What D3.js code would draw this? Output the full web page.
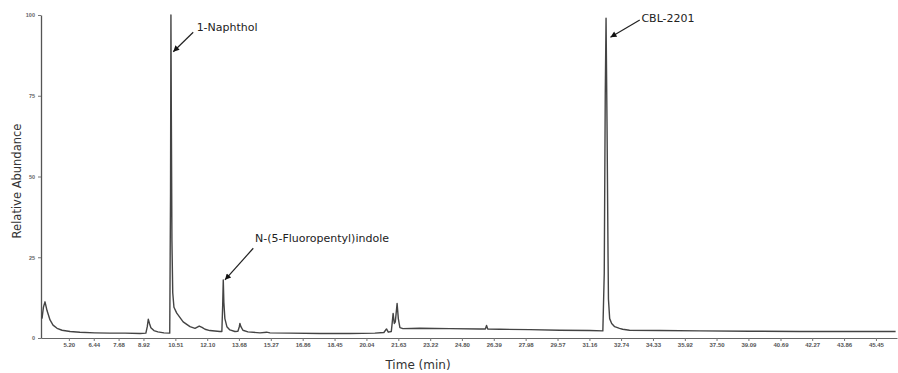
<!DOCTYPE html>
<html>
<head>
<meta charset="utf-8">
<script src="https://cdn.jsdelivr.net/npm/d3@7"></script>
<style>
    body { margin: 0; background: #fff; }
    svg { display: block; }
</style>
</head>
<body>
<script>
// tick labels on the time axis (min)
const tick_times = [5.20, 6.44, 7.68, 8.92, 10.51, 12.10, 13.68, 15.27, 16.86, 18.45, 20.04,
    21.63, 23.22, 24.80, 26.39, 27.98, 29.57, 31.16, 32.74, 34.33, 35.92, 37.50, 39.09,
    40.69, 42.27, 43.86, 45.45];
const abundance_ticks = [0, 25, 50, 75, 100];

// chromatogram trace
const trace_times = [3.86, 3.93, 4.01, 4.11, 4.26, 4.41, 4.61, 4.86, 5.26, 5.75, 6.50, 7.25,
    8.00, 8.75, 9.04, 9.11, 9.16, 9.22, 9.29, 9.44, 9.64, 9.94, 10.23, 10.27, 10.29, 10.31,
    10.34, 10.38, 10.44, 10.58, 10.90, 11.24, 11.49, 11.70, 11.84, 11.99, 12.23, 12.73, 12.83,
    12.87, 12.90, 12.93, 12.98, 13.08, 13.23, 13.48, 13.63, 13.70, 13.73, 13.78, 13.88, 14.13,
    14.73, 15.06, 15.23, 16.22, 17.72, 19.21, 20.46, 20.91, 21.04, 21.13, 21.28, 21.33, 21.37,
    21.43, 21.48, 21.57, 21.63, 21.71, 21.86, 22.70, 24.20, 25.69, 25.97, 26.03, 26.09, 26.69,
    28.19, 29.68, 31.18, 31.83, 31.90, 31.95, 31.99, 32.04, 32.09, 32.11, 32.17, 32.27, 32.42,
    32.66, 32.82, 33.16, 34.66, 36.66, 39.15, 41.64, 44.14, 46.43];
const trace_abundance = [6.0, 9.5, 11.2, 8.5, 5.6, 4.0, 3.0, 2.4, 2.0, 1.8, 1.6, 1.5,
    1.5, 1.4, 1.5, 3.5, 5.8, 4.5, 3.2, 2.3, 1.9, 1.6, 1.5, 45, 100, 70,
    30, 14, 9.5, 7.7, 5.0, 3.5, 3.0, 3.7, 3.3, 2.7, 2.3, 2.0, 2.0,
    10, 18, 11, 6, 3.5, 2.5, 2.0, 2.1, 3.5, 4.5, 3.5, 2.4, 1.9,
    1.6, 1.8, 1.6, 1.5, 1.4, 1.4, 1.5, 1.7, 2.8, 1.8, 2.0, 5, 7.6,
    4.5, 5, 10.7, 6, 3.2, 2.9, 3.0, 2.9, 2.8, 2.8, 3.9, 2.8, 2.7,
    2.6, 2.4, 2.3, 2.2, 20, 75, 99, 65, 25, 12, 6, 4.5, 3.5,
    3.0, 2.7, 2.4, 2.3, 2.2, 2.1, 2.0, 2.0, 2.0];

// labelled peaks
const peak_names = ['1-Naphthol', 'N-(5-Fluoropentyl)indole', 'CBL-2201'];
const peak_times = [10.29, 12.90, 31.99];
const peak_abundance = [100, 18, 99];

const width = 898,
    height = 373;

const plot_left = 41, plot_right = 897, plot_top = 15, plot_bottom = 338;

// offsets (px) of arrow tip, arrow tail and text start, relative to the peak apex
const label_layout = [
    {tip: [2.3, 36.7], tail: [22.3, 17.3], text: [25.7, 15.7]},
    {tip: [1.7, 0], tail: [30, -31.6], text: [31.7, -37.6]},
    {tip: [4.4, 19], tail: [33.7, 1.8], text: [35.4, 4.1]}
];

const svg = d3.select('body')
    .append('svg')
    .attr('width', width)
    .attr('height', height)
    .style('font-family', '"DejaVu Sans", Verdana, sans-serif');

svg.append('defs').append('marker')
    .attr('id', 'arrowhead')
    .attr('viewBox', '0 -5 10 10')
    .attr('refX', 10)
    .attr('refY', 0)
    .attr('orient', 'auto')
    .attr('markerUnits', 'userSpaceOnUse')
    .attr('markerWidth', 8)
    .attr('markerHeight', 6)
    .append('path')
    .attr('d', 'M 0,-5 L 10,0 L 0,5 Z')
    .attr('fill', '#111');

const x = d3.scaleLinear()
    .domain([3.81, 46.5])
    .range([plot_left, plot_right]);

const y = d3.scaleLinear()
    .domain([0, 100])
    .range([plot_bottom, plot_top]);

// axes
const x_axis = svg.append('g')
    .attr('transform', 'translate(0,' + plot_bottom + ')')
    .call(d3.axisBottom(x)
        .tickValues(tick_times)
        .tickFormat(d3.format('.2f'))
        .tickSize(3)
        .tickSizeOuter(0)
        .tickPadding(2));

x_axis.select('.domain').attr('stroke', '#666').attr('stroke-width', 1.2);
x_axis.selectAll('.tick line').attr('stroke', '#777');
x_axis.selectAll('.tick text')
    .attr('fill', '#555')
    .style('font-size', '6px')
    .style('font-weight', 'bold');

const y_axis = svg.append('g')
    .attr('transform', 'translate(' + plot_left + ',0)')
    .call(d3.axisLeft(y)
        .tickValues(abundance_ticks)
        .tickSize(3)
        .tickSizeOuter(0)
        .tickPadding(3));

y_axis.select('.domain').attr('stroke', '#555').attr('stroke-width', 1.3);
y_axis.selectAll('.tick line').attr('stroke', '#777');
y_axis.selectAll('.tick text')
    .attr('fill', '#666')
    .style('font-size', '5.5px')
    .style('font-weight', 'bold');

// axis titles
svg.append('text')
    .attr('x', 418)
    .attr('y', 369)
    .attr('text-anchor', 'middle')
    .attr('fill', '#333')
    .style('font-size', '12px')
    .text('Time (min)');

svg.append('text')
    .attr('transform', 'translate(21,' + 181 + ') rotate(-90)')
    .attr('text-anchor', 'middle')
    .attr('fill', '#333')
    .style('font-size', '11.5px')
    .text('Relative Abundance');

// trace
const trace = trace_times.map(function (t, i) {
    return {t: t, a: trace_abundance[i]};
});

const line = d3.line()
    .x(function (d) {
        return x(d.t);
    })
    .y(function (d) {
        return y(d.a);
    });

svg.append('path')
    .datum(trace)
    .attr('d', line)
    .attr('fill', 'none')
    .attr('stroke', '#444')
    .attr('stroke-width', 1.4)
    .attr('stroke-linejoin', 'round');

// peak annotations
const peaks = peak_names.map(function (name, i) {
    return {name: name, t: peak_times[i], a: peak_abundance[i], lay: label_layout[i]};
});

const notes = svg.append('g')
    .selectAll('g')
    .data(peaks)
    .enter().append('g');

notes.append('line')
    .attr('x1', function (d) {
        return x(d.t) + d.lay.tail[0];
    })
    .attr('y1', function (d) {
        return y(d.a) + d.lay.tail[1];
    })
    .attr('x2', function (d) {
        return x(d.t) + d.lay.tip[0];
    })
    .attr('y2', function (d) {
        return y(d.a) + d.lay.tip[1];
    })
    .attr('stroke', '#222')
    .attr('stroke-width', 1.2)
    .attr('marker-end', 'url(#arrowhead)');

notes.append('text')
    .attr('x', function (d) {
        return x(d.t) + d.lay.text[0];
    })
    .attr('y', function (d) {
        return y(d.a) + d.lay.text[1];
    })
    .attr('fill', '#222')
    .style('font-size', '11px')
    .text(function (d) {
        return d.name;
    });
</script>
</body>
</html>
